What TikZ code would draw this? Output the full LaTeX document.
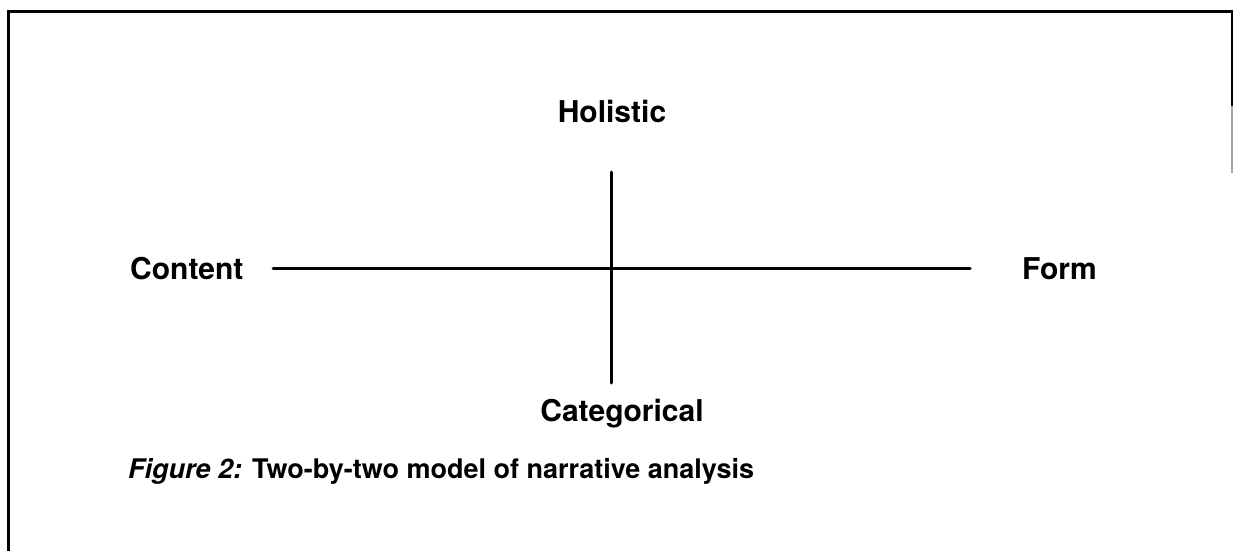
\documentclass[tikz,border=0pt]{standalone}
\usepackage{fontspec}
\setmainfont{TeX Gyre Heros}
\begin{document}
\begin{tikzpicture}[x=1pt,y=-1pt,
  lbl/.style={inner sep=0pt,font=\fontsize{30}{36}\selectfont\bfseries},
  captext/.style={inner sep=0pt,font=\fontsize{27}{32}\selectfont\bfseries},
  axisline/.style={line width=3pt,line cap=round},
  frameline/.style={line width=3pt}]
\useasboundingbox (0,0) rectangle (1233,551);
% frame
\coordinate (fbl) at (8,551);
\coordinate (ftl) at (8,12);
\coordinate (ftr) at (1232,12);
\coordinate (frm) at (1232,106);
\coordinate (frb) at (1232,173);
\draw[frameline] (fbl) -- (ftl) -- (ftr) -- (frm);
\draw[line width=1.5pt,black!35] (frm) -- (frb);
% labels
\node[lbl,anchor=base] (hol) at (612,122) {Holistic};
\node[lbl,anchor=base west] (con) at (130,279) {Content};
\node[lbl,anchor=base west] (frm2) at (1022,279) {Form};
\node[lbl,anchor=base] (cat) at (622,421) {Categorical};
% axes
\coordinate (hl) at (273,268);
\coordinate (hr) at (970,268);
\coordinate (vt) at (611,172);
\coordinate (vb) at (611,383);
\draw[axisline] (hl) -- (hr);
\draw[axisline] (vt) -- (vb);
% caption
\node[captext,anchor=base west] (caption) at (128,478) {\textit{Figure 2:} Two-by-two model of narrative analysis};
\end{tikzpicture}
\end{document}
